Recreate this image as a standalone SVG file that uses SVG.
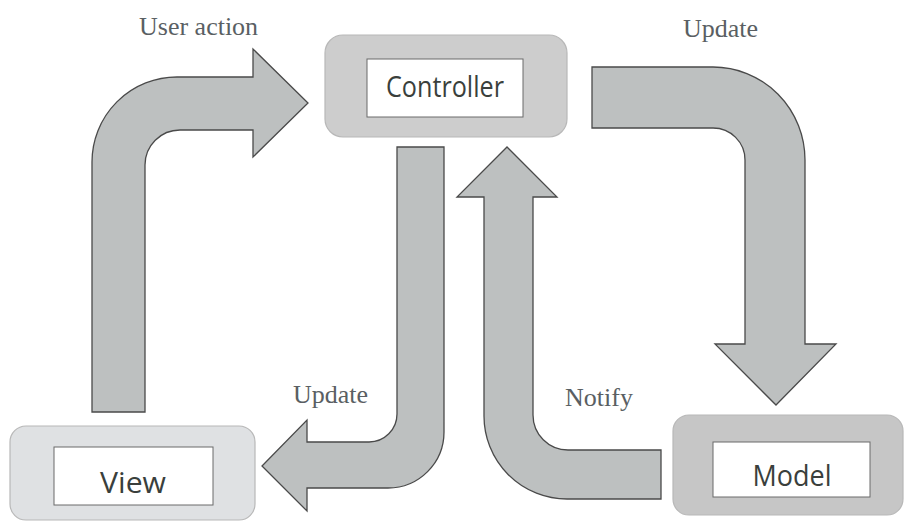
<svg xmlns="http://www.w3.org/2000/svg" width="904" height="523" viewBox="0 0 904 523">
  <style>
    .arrow { fill: #bdc0c0; stroke: #4a4a4a; stroke-width: 1.3; stroke-linejoin: miter; }
    .outer { stroke: #b8b8b8; stroke-width: 1.2; }
    .inner { fill: #ffffff; stroke: #6a6a6a; stroke-width: 1; }
    .ntext { font-family: "Open Sans", "Noto Sans", sans-serif; font-size: 30px; fill: #3a3f3c; text-anchor: middle; }
    .label { font-family: "Liberation Serif", serif; font-size: 26px; fill: #5a5f63; }
  </style>
  <rect width="904" height="523" fill="#ffffff"/>
  <g id="connectors">
    <path id="user-action" class="arrow" d="M92,412 L92,162 A85,85 0 0 1 177,77 L253,77 L253,49 L308,103 L253,157 L253,130 L180,130 A35,35 0 0 0 145,165 L145,412 Z"/>
    <path id="update-model" class="arrow" d="M592,67 L713,67 A92,93 0 0 1 805,160 L805,344 L836,344 L776,405 L715,344 L745,344 L745,160 A32,32 0 0 0 713,128 L592,128 Z"/>
    <path id="update-view" class="arrow" d="M397,147 L444,147 L444,432 A56,56 0 0 1 388,488 L307,488 L307,511 L262,466 L307,420 L307,442 L369,442 A28,28 0 0 0 397,414 Z"/>
    <path id="notify" class="arrow" d="M661,450 L568,450 A35,35 0 0 1 533,415 L533,197 L557,197 L507,147 L457,197 L484,197 L484,416 A83,83 0 0 0 567,499 L661,499 Z"/>
    <text class="label" x="139" y="35">User action</text>
    <text class="label" x="683" y="37">Update</text>
    <text class="label" x="293" y="403">Update</text>
    <text class="label" x="565" y="406">Notify</text>
  </g>
  <g id="controller">
    <rect class="outer" x="325" y="35" width="242" height="102" rx="18" fill="#cdcdcd"/>
    <rect class="inner" x="367" y="59" width="156" height="58"/>
    <text class="ntext" x="445" y="97" textLength="118" lengthAdjust="spacingAndGlyphs">Controller</text>
  </g>
  <g id="view">
    <rect class="outer" x="10" y="426" width="245" height="94" rx="16" fill="#dfe1e3"/>
    <rect class="inner" x="54" y="447" width="159" height="58"/>
    <text class="ntext" x="133" y="493" textLength="66" lengthAdjust="spacingAndGlyphs">View</text>
  </g>
  <g id="model">
    <rect class="outer" x="673" y="415" width="230" height="100" rx="16" fill="#c6c6c6"/>
    <rect class="inner" x="713" y="442" width="157" height="55"/>
    <text class="ntext" x="792" y="486" textLength="79" lengthAdjust="spacingAndGlyphs">Model</text>
  </g>
</svg>
